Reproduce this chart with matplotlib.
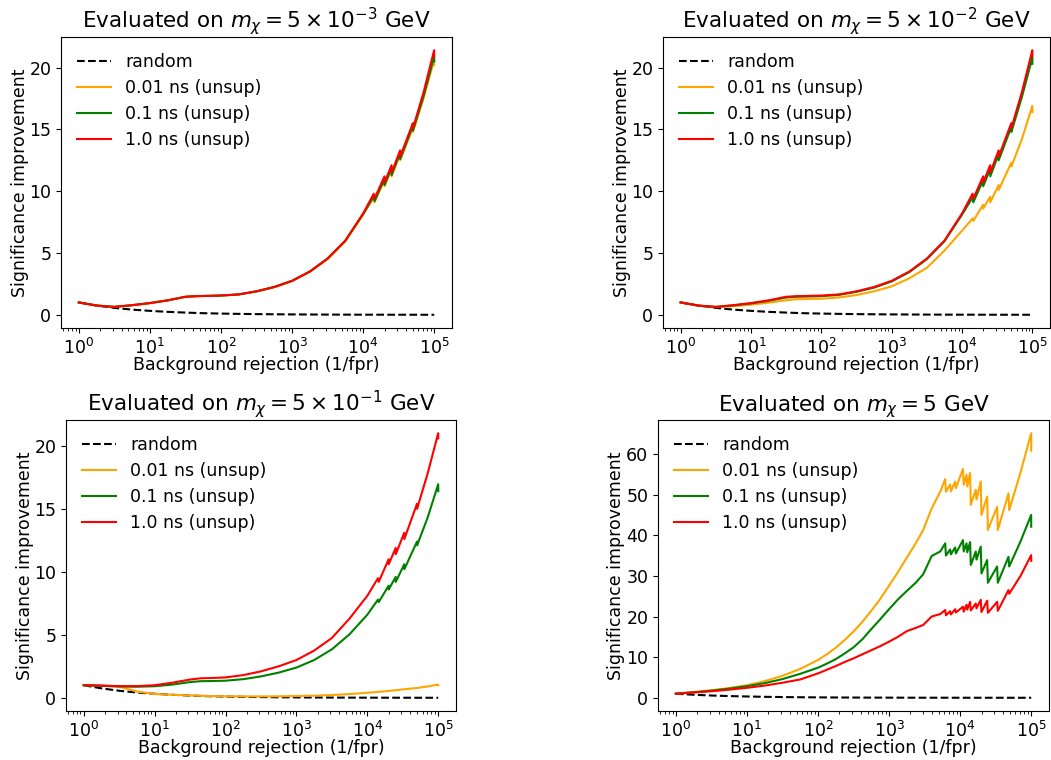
import numpy as np
import matplotlib
matplotlib.use("Agg")
import matplotlib.pyplot as plt

# ---------------- data ----------------
titles = [
    r"Evaluated on $m_\chi = 5\times10^{-3}$ GeV",
    r"Evaluated on $m_\chi = 5\times10^{-2}$ GeV",
    r"Evaluated on $m_\chi = 5\times10^{-1}$ GeV",
    r"Evaluated on $m_\chi = 5$ GeV",
]
labels = ["random", "0.01 ns (unsup)", "0.1 ns (unsup)", "1.0 ns (unsup)"]
xlabel = "Background rejection (1/fpr)"
ylabel = "Significance improvement"

# random classifier (exponent of background rejection, value)
random_exp = [0, 0.25, 0.5, 0.75, 1.0, 1.25, 1.5, 1.75, 2.0, 2.25, 2.5, 2.75, 3.0, 3.5, 4.0, 4.5, 5.0]
random_val = [1.0, 0.75, 0.56, 0.42, 0.32, 0.24, 0.18, 0.13, 0.10, 0.075, 0.056, 0.042, 0.032, 0.018, 0.010, 0.006, 0.003]

# exponents (log10 of background rejection) for panels 1-3
exp_a = [0, 0.25, 0.5, 0.75, 1.0, 1.25, 1.5, 1.65, 1.8, 2.0, 2.25, 2.5, 2.75, 3.0, 3.25, 3.5, 3.75,
         4.0, 4.15, 4.16, 4.3, 4.301, 4.4, 4.401, 4.52, 4.521, 4.7, 4.701, 4.85, 4.999, 5.0]

p1_orange = [1.0, 0.75, 0.64, 0.77, 0.94, 1.16, 1.45, 1.5, 1.52, 1.55, 1.64, 1.88, 2.23, 2.72, 3.47, 4.5, 5.95,
             8.1, 9.5, 9.1, 10.9, 10.4, 11.8, 11.2, 13.0, 12.5, 15.1, 14.8, 17.5, 20.6, 20.2]
p1_green = [1.0, 0.75, 0.64, 0.78, 0.95, 1.17, 1.46, 1.51, 1.53, 1.56, 1.65, 1.9, 2.25, 2.75, 3.5, 4.55, 6.0,
            8.15, 9.6, 9.2, 11.0, 10.5, 11.9, 11.3, 13.1, 12.6, 15.3, 14.9, 17.7, 20.9, 20.5]
p1_red = [1.0, 0.75, 0.64, 0.78, 0.95, 1.17, 1.46, 1.51, 1.53, 1.56, 1.65, 1.9, 2.25, 2.75, 3.5, 4.55, 6.0,
          8.2, 9.8, 9.4, 11.2, 10.7, 12.1, 11.5, 13.3, 12.8, 15.5, 15.1, 18.0, 21.4, 20.9]

p2_orange = [1.0, 0.74, 0.62, 0.7, 0.82, 0.98, 1.18, 1.26, 1.28, 1.3, 1.4, 1.6, 1.9, 2.3, 2.95, 3.8, 5.2,
             6.8, 7.8, 7.6, 8.9, 8.6, 9.55, 9.1, 10.5, 10.1, 12.3, 12.0, 14.2, 16.9, 16.4]
p2_green = [1.0, 0.75, 0.64, 0.76, 0.92, 1.13, 1.4, 1.46, 1.48, 1.51, 1.61, 1.86, 2.2, 2.7, 3.45, 4.5, 5.95,
            8.1, 9.5, 9.1, 10.9, 10.4, 11.8, 11.2, 13.0, 12.5, 15.2, 14.8, 17.6, 20.8, 20.3]
p2_red = [1.0, 0.75, 0.64, 0.78, 0.95, 1.17, 1.46, 1.51, 1.53, 1.56, 1.65, 1.9, 2.25, 2.75, 3.5, 4.55, 6.0,
          8.2, 9.8, 9.4, 11.2, 10.7, 12.1, 11.5, 13.3, 12.8, 15.5, 15.1, 18.0, 21.4, 20.9]

p3_orange = [1.0, 0.97, 0.88, 0.5, 0.3, 0.24, 0.19, 0.16, 0.14, 0.12, 0.11, 0.11, 0.12, 0.14, 0.17, 0.22, 0.3,
             0.4, 0.47, 0.47, 0.55, 0.55, 0.6, 0.6, 0.68, 0.68, 0.78, 0.78, 0.9, 1.05, 1.0]
p3_green = [1.0, 0.95, 0.9, 0.88, 0.92, 1.05, 1.25, 1.32, 1.33, 1.36, 1.48, 1.7, 2.0, 2.4, 3.0, 3.85, 5.05,
            6.6, 7.8, 7.6, 8.9, 8.6, 9.6, 9.2, 10.6, 10.2, 12.4, 12.1, 14.3, 16.95, 16.4]
p3_red = [1.0, 0.97, 0.93, 0.93, 1.0, 1.2, 1.45, 1.55, 1.57, 1.62, 1.8, 2.1, 2.5, 3.0, 3.75, 4.75, 6.3,
          8.1, 9.5, 9.2, 11.0, 10.6, 11.9, 11.4, 13.1, 12.6, 15.4, 15.0, 17.8, 21.0, 20.6]

# exponents for panel 4 (more fluctuations)
exp_b = [0, 0.25, 0.5, 0.75, 1.0, 1.25, 1.5, 1.75, 2.0, 2.125, 2.25, 2.375, 2.5, 2.625, 2.75, 2.875,
         3.0, 3.125, 3.25, 3.375, 3.48, 3.6, 3.72,
         3.79, 3.8, 3.86, 3.87, 3.93, 3.94, 4.04, 4.05, 4.09, 4.1, 4.14, 4.15, 4.22, 4.23, 4.29, 4.3,
         4.38, 4.39, 4.52, 4.53, 4.68, 4.69, 4.85, 4.999, 5.0]

p4_orange = [1.0, 1.4, 1.85, 2.4, 3.1, 4.1, 5.4, 7.1, 9.3, 10.7, 12.3, 14.2, 16.3, 18.7, 21.4, 24.3,
             27.6, 30.9, 34.5, 38.0, 41.3, 46.6, 50.7,
             53.8, 50.7, 52.5, 50.8, 53.2, 51.6, 56.3, 52.4, 54.9, 52.0, 55.3, 47.5, 51.2, 48.8, 53.2, 45.0,
             49.5, 41.3, 47.0, 41.3, 50.3, 46.2, 55.5, 65.1, 60.8]
p4_green = [1.0, 1.35, 1.75, 2.25, 2.85, 3.6, 4.6, 5.9, 7.4, 8.4, 9.5, 10.9, 12.4, 14.4, 16.9, 19.3,
            21.8, 24.2, 26.3, 28.3, 30.4, 34.9, 36.0,
            38.0, 35.0, 36.5, 35.3, 37.0, 35.5, 38.8, 36.0, 38.0, 35.8, 38.3, 32.7, 36.0, 34.0, 37.2, 30.6,
            33.9, 28.3, 32.3, 28.3, 34.7, 32.3, 38.5, 45.0, 42.1]
p4_red = [1.0, 1.3, 1.6, 2.0, 2.45, 3.0, 3.7, 4.5, 6.0, 6.9, 7.8, 8.8, 9.7, 10.7, 11.7, 12.7,
          13.8, 15.0, 16.4, 17.2, 17.9, 20.0, 20.6,
          21.6, 20.3, 21.3, 20.5, 21.8, 21.0, 22.4, 21.2, 22.9, 21.7, 23.6, 21.5, 23.2, 22.0, 24.1, 21.1,
          23.9, 20.9, 23.6, 21.4, 26.5, 25.6, 30.0, 35.1, 33.7]

colors = ["orange", "green", "red"]

panels = [
    (exp_a, [p1_orange, p1_green, p1_red]),
    (exp_a, [p2_orange, p2_green, p2_red]),
    (exp_a, [p3_orange, p3_green, p3_red]),
    (exp_b, [p4_orange, p4_green, p4_red]),
]

# ---------------- figure ----------------
W, H = 1051, 760
fig = plt.figure(figsize=(W / 100, H / 100), dpi=100)

# axes boxes in pixels: left, top, right, bottom
boxes = [(61, 37, 452, 328), (663, 37, 1050, 328), (66, 420, 456, 711), (658, 420, 1049, 711)]

FS = 12.5
for (ex, series), title, (l, t, r, b) in zip(panels, titles, boxes):
    ax = fig.add_axes([l / W, 1 - b / H, (r - l) / W, (b - t) / H])
    ax.plot(10 ** np.array(random_exp), random_val, "k--", lw=1.5, label=labels[0])
    for vals, c, lab in zip(series, colors, labels[1:]):
        ax.plot(10 ** np.array(ex), vals, color=c, lw=1.5, label=lab)
    ax.set_xscale("log")
    ax.set_title(title, fontsize=15.5)
    ax.set_xlabel(xlabel, fontsize=FS, labelpad=-1.5)
    ax.set_ylabel(ylabel, fontsize=FS, labelpad=0.5)
    ax.tick_params(labelsize=FS)
    ax.legend(frameon=False, fontsize=FS, loc="upper left", labelspacing=0.47)

fig.savefig("out.png", dpi=100)
